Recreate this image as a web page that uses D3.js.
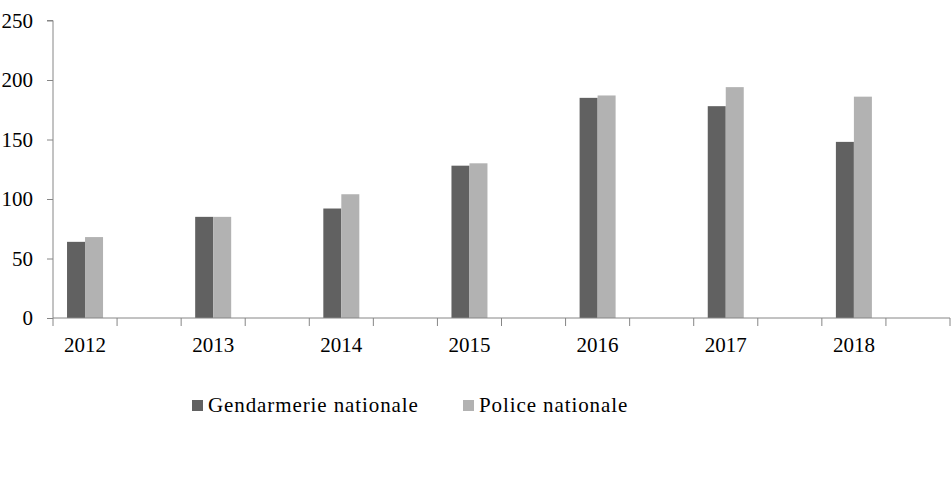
<!DOCTYPE html>
<html>
<head>
<meta charset="utf-8">
<script src="https://cdn.jsdelivr.net/npm/d3@7"></script>
<style>
  body { margin: 0; background: #fff; }
  text { font-family: "Liberation Serif", "DejaVu Serif", serif; fill: #000; }
</style>
</head>
<body>
<svg id="chart" width="951" height="484"></svg>
<script>
const years = ['2012', '2013', '2014', '2015', '2016', '2017', '2018'];
const gendarmerie = [64, 85, 92, 128, 185, 178, 148];
const police = [68, 85, 104, 130, 187, 194, 186];
const seriesNames = ['Gendarmerie nationale', 'Police nationale'];
const seriesColors = ['#616161', '#b2b2b2'];
const yTicks = [0, 50, 100, 150, 200, 250];

const svg = d3.select('#chart');
const plotLeft = 53, plotRight = 950, plotTop = 20.5, plotBottom = 318;

// each year takes a slot, followed by an empty slot (like the source sheet)
const slots = [];
years.forEach(y => { slots.push(y); slots.push(y + '_gap'); });

const x = d3.scaleBand().domain(slots).range([plotLeft, plotRight]);
const y = d3.scaleLinear().domain([0, 250]).range([plotBottom, plotTop]);
const inner = d3.scaleBand().domain([0, 1]).range([0, 36]);
const pad = (x.bandwidth() - 36) / 2;

const axisColor = '#868686';

// bars
const rows = years.map((yr, i) => ({ yr, vals: [gendarmerie[i], police[i]] }));
const groups = svg.selectAll('g.year').data(rows).enter().append('g')
  .attr('transform', d => `translate(${x(d.yr) + pad},0)`);
groups.selectAll('rect').data(d => d.vals).enter().append('rect')
  .attr('x', (d, i) => inner(i))
  .attr('width', inner.bandwidth())
  .attr('y', d => y(d))
  .attr('height', d => plotBottom - y(d))
  .attr('fill', (d, i) => seriesColors[i]);

// y axis
const yAxis = svg.append('g').attr('transform', `translate(${plotLeft},0)`)
  .call(d3.axisLeft(y).tickValues(yTicks).tickSize(6).tickPadding(14));
yAxis.select('.domain').attr('stroke', axisColor).attr('d', `M-6,${plotTop}H0V${plotBottom}`);
yAxis.selectAll('.tick line').attr('stroke', axisColor);
yAxis.selectAll('.tick text').attr('font-size', 21).attr('dy', '0.32em')
  .style('font-family', '"Liberation Serif", serif');

// x axis: line plus slot boundary ticks
const xAxis = svg.append('g').attr('transform', `translate(0,${plotBottom})`);
xAxis.append('line').attr('x1', plotLeft).attr('x2', plotRight).attr('stroke', axisColor);
const bounds = slots.map(s => x(s)).concat([plotRight]);
xAxis.selectAll('line.tk').data(bounds).enter().append('line')
  .attr('class', 'tk')
  .attr('x1', d => d).attr('x2', d => d)
  .attr('y1', 0).attr('y2', 8)
  .attr('stroke', axisColor);
xAxis.selectAll('text').data(years).enter().append('text')
  .attr('x', d => x(d) + x.bandwidth() / 2)
  .attr('y', 34)
  .attr('text-anchor', 'middle')
  .attr('font-size', 21)
  .text(d => d);

// legend
const legendX = [192, 463];
const legend = svg.selectAll('g.legend').data(seriesNames).enter().append('g')
  .attr('transform', (d, i) => `translate(${legendX[i]},400)`);
legend.append('rect').attr('width', 11).attr('height', 11)
  .attr('fill', (d, i) => seriesColors[i]);
legend.append('text').attr('x', 16).attr('y', 12)
  .attr('font-size', 21).attr('letter-spacing', 0.9).text(d => d);
</script>
</body>
</html>
